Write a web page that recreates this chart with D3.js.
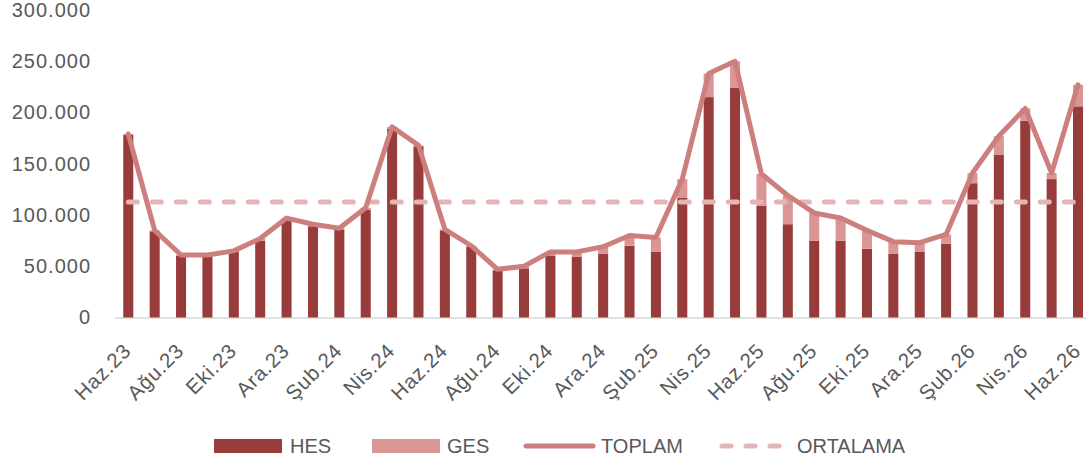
<!DOCTYPE html>
<html>
<head>
<meta charset="utf-8">
<script src="https://cdn.jsdelivr.net/npm/d3@7"></script>
<style>
  html, body { margin: 0; padding: 0; background: #fff; }
  svg { display: block; }
  text { font-family: "Liberation Sans", Arial, sans-serif; fill: #595959; }
</style>
</head>
<body>
<svg id="chart" width="1086" height="463"></svg>
<script>
// ---- Data (values in thousands) ----
const months = ["Haz.23","Tem.23","Ağu.23","Eyl.23","Eki.23","Kas.23","Ara.23","Oca.24","Şub.24","Mar.24","Nis.24","May.24","Haz.24","Tem.24","Ağu.24","Eyl.24","Eki.24","Kas.24","Ara.24","Oca.25","Şub.25","Mar.25","Nis.25","May.25","Haz.25","Tem.25","Ağu.25","Eyl.25","Eki.25","Kas.25","Ara.25","Oca.26","Şub.26","Mar.26","Nis.26","May.26","Haz.26"];
const hes = [178, 84, 60, 60, 64, 75, 95, 89, 86, 105, 184, 167, 85, 69, 46, 48, 60, 59, 62, 70, 64, 117, 215, 224, 109, 91, 75, 75, 67, 62, 64, 72, 131, 159, 192, 135, 206];
const ges = [1, 1, 1, 1, 1, 2, 2, 2, 1, 2, 2, 1, 1, 1, 1, 2, 4, 5, 7, 10, 14, 18, 23, 26, 31, 28, 27, 22, 18, 12, 9, 9, 10, 18, 12, 6, 21];
const toplam = [179, 85, 61, 61, 65, 77, 97, 91, 87, 107, 186, 168, 86, 70, 47, 50, 64, 64, 69, 80, 78, 135, 238, 250, 140, 119, 102, 97, 85, 74, 73, 81, 141, 177, 204, 141, 227];
const ortalama = 112.7;
const yTicks = [0, 50, 100, 150, 200, 250, 300];
const yTickLabels = ["0", "50.000", "100.000", "150.000", "200.000", "250.000", "300.000"];
const seriesNames = ["HES", "GES", "TOPLAM", "ORTALAMA"];

// ---- Styles ----
const cHes = "#983B3B", cGes = "#DA9694", cTop = "#CD7F7D", cOrt = "#E3B6B5";

const svg = d3.select("#chart");
const x = d3.scaleBand().domain(months).range([115.1, 1091.2]).paddingInner(0.62).paddingOuter(0.31);
const y = d3.scaleLinear().domain([0, 300]).range([317.5, 10]);
const cx = d => x(d) + x.bandwidth() / 2;

// y tick labels
const yAxis = d3.axisLeft(y).tickValues(yTicks).tickFormat((d, i) => yTickLabels[i]).tickSize(0).tickPadding(0);
const ya = svg.append("g").attr("transform", "translate(91,0)").call(yAxis);
ya.select(".domain").remove();
ya.selectAll("text").attr("font-size", 20).style("letter-spacing", "1px")
  .attr("font-family", "Liberation Sans, Arial, sans-serif").attr("fill", "#595959");

// baseline
svg.append("line").attr("x1", 115).attr("x2", 1086).attr("y1", y(0) + 0.5).attr("y2", y(0) + 0.5)
  .attr("stroke", "#D9D9D9").attr("stroke-width", 1.5);

// bars
const stacked = months.map((m, i) => ({ m, hes: hes[i], ges: ges[i] }));
svg.append("g").selectAll("rect").data(stacked).join("rect")
  .attr("x", d => x(d.m)).attr("width", x.bandwidth())
  .attr("y", d => y(d.hes)).attr("height", d => y(0) - y(d.hes)).attr("fill", cHes);
svg.append("g").selectAll("rect").data(stacked).join("rect")
  .attr("x", d => x(d.m)).attr("width", x.bandwidth())
  .attr("y", d => y(d.hes + d.ges)).attr("height", d => y(d.hes) - y(d.hes + d.ges)).attr("fill", cGes);

// average line
svg.append("line")
  .attr("x1", cx(months[0])).attr("x2", cx(months[months.length - 1]))
  .attr("y1", y(ortalama)).attr("y2", y(ortalama))
  .attr("stroke", cOrt).attr("stroke-width", 5).attr("stroke-linecap", "round")
  .attr("stroke-dasharray", "9 15");

// total line
const line = d3.line().x((d, i) => cx(months[i])).y(d => y(d));
svg.append("path").datum(toplam).attr("d", line)
  .attr("fill", "none").attr("stroke", cTop).attr("stroke-width", 5)
  .attr("stroke-linejoin", "round").attr("stroke-linecap", "round");

// x labels (every other month)
const xAxis = d3.axisBottom(x).tickValues(months.filter((d, i) => i % 2 === 0)).tickSize(0).tickPadding(0);
const xa = svg.append("g").call(xAxis);
xa.select(".domain").remove();
xa.selectAll(".tick").attr("transform", d => `translate(${cx(d) - 1},347)`);
xa.selectAll("text").attr("transform", "rotate(-45)").attr("text-anchor", "end")
  .attr("x", 0).attr("y", 0).attr("dy", "0.35em")
  .attr("font-size", 20.5).style("letter-spacing", "0.8px")
  .attr("font-family", "Liberation Sans, Arial, sans-serif").attr("fill", "#595959");

// legend
const lg = svg.append("g");
const ly = 446;
lg.append("rect").attr("x", 214).attr("y", 439).attr("width", 68).attr("height", 14).attr("fill", cHes);
lg.append("text").attr("x", 290).attr("y", ly).attr("dy", "0.35em").attr("font-size", 20).text(seriesNames[0]);
lg.append("rect").attr("x", 372).attr("y", 439).attr("width", 68).attr("height", 14).attr("fill", cGes);
lg.append("text").attr("x", 447).attr("y", ly).attr("dy", "0.35em").attr("font-size", 20).text(seriesNames[1]);
lg.append("line").attr("x1", 526).attr("x2", 593).attr("y1", ly).attr("y2", ly)
  .attr("stroke", cTop).attr("stroke-width", 5).attr("stroke-linecap", "round");
lg.append("text").attr("x", 601).attr("y", ly).attr("dy", "0.35em").attr("font-size", 20).text(seriesNames[2]);
lg.append("line").attr("x1", 722).attr("x2", 782).attr("y1", ly).attr("y2", ly)
  .attr("stroke", cOrt).attr("stroke-width", 5).attr("stroke-linecap", "round").attr("stroke-dasharray", "9 15");
lg.append("text").attr("x", 797).attr("y", ly).attr("dy", "0.35em").attr("font-size", 20).text(seriesNames[3]);
</script>
</body>
</html>
